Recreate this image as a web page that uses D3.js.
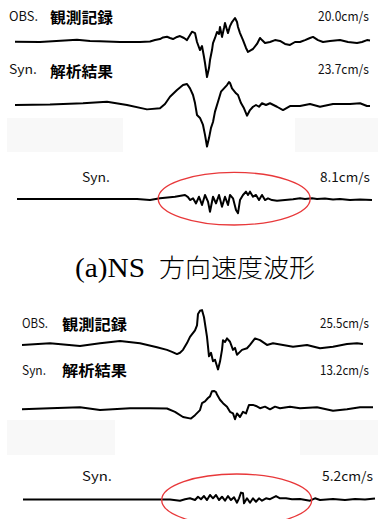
<!DOCTYPE html>
<html>
<head>
<meta charset="utf-8">
<script src="https://cdn.jsdelivr.net/npm/d3@7"></script>
<style>
  html, body { margin: 0; padding: 0; background: #fff; }
  svg { display: block; }
</style>
</head>
<body>
<svg id="chart" width="378" height="519"></svg>
<script>
// ---- Velocity waveforms: [time (s), velocity (cm/s)] ----

// (a) NS component
const nsObs = [[0,0.2],[5,0],[12.4,1.3],[15,0.6],[17,0.4],[21,0],[25,0],[27,0.3],[28,1.1],[29,1.7],[29.6,2.6],[30.4,3.0],[31,2.3],[31.6,1.7],[32.4,2.9],[33,3.4],[33.8,2.3],[34.4,1.1],[35,4.0],[35.4,5.9],[36,5.1],[36.4,0],[37,-4.6],[37.4,-2.3],[37.8,-8.6],[38,-12],[38.4,-20.0],[38.8,-14.9],[39,-10.3],[39.4,-4.6],[39.6,-0.6],[40,2.3],[40.4,5.7],[40.8,4.6],[41,8.6],[41.4,2.9],[41.8,8.0],[42,10.9],[42.4,6.9],[42.6,5.1],[43,9.1],[43.4,11.4],[44,13.7],[44.4,11.4],[44.6,8.6],[45,5.1],[45.6,1.1],[46.2,-3.4],[46.6,-5.7],[47.2,-4.6],[47.6,-4.0],[48.4,-1.1],[49,2.3],[49.4,1.1],[50,-0.6],[51,0],[52,1.1],[53,0.6],[54,-1.1],[55,-1.7],[56,0],[57,0],[58,1.1],[59,2.3],[59.6,2.9],[60.6,1.1],[61.6,0],[63,0.6],[65,1.1],[66.6,0],[68.4,-0.6],[69.4,0],[70.4,1.1],[71,0.9]];

const nsSyn = [[0,0],[7,0.3],[13.6,1.0],[18.4,1.9],[22.4,0],[26.4,-2.5],[29,-1.9],[30,0.6],[31,4.7],[32.4,8.6],[33.6,11.4],[34.4,12.0],[35,9.5],[35.6,5.7],[36,1.1],[36.4,-5.7],[37,-7.4],[37.6,-11.4],[38,-17.1],[38.4,-23.7],[38.8,-18.9],[39.2,-13.1],[39.6,-9.7],[40,-3.8],[40.6,1.9],[41.2,7.6],[41.8,9.5],[42.4,11.4],[42.8,13.1],[43,12.6],[43.4,9.5],[44.2,6.7],[44.6,5.7],[45.2,1.1],[45.8,-1.9],[46.4,-6.1],[47,-2.9],[47.6,-1.0],[48.2,0],[48.8,-1.0],[49.4,1.0],[50.2,0],[51,1.0],[52.4,-1.0],[53.6,-2.9],[55,-0.6],[57,-0.6],[59,0.6],[61,-1.0],[63.6,0.6],[67,0.6],[69,1.0],[70.4,-0.6],[71,-0.6]];

const nsSynSub = [[0.4,0],[24.4,0],[27,-0.6],[29,0.4],[32,1.3],[34,2.3],[34.6,1.1],[35,-0.6],[35.6,0.4],[36.2,-2.5],[36.8,1.3],[37.4,-3.4],[38,2.3],[38.6,-1.5],[39,-7.3],[39.6,1.3],[40.2,-2.5],[40.8,2.3],[41.4,-4.4],[42,1.3],[42.6,-3.4],[43,2.3],[43.6,0.4],[44.2,-6.3],[44.6,-8.1],[45,-0.6],[45.6,2.3],[46.2,4.2],[46.6,2.3],[47,4.2],[47.6,1.3],[48.2,2.3],[48.8,-0.6],[49.4,2.3],[50,-0.6],[50.6,0.4],[51.4,-0.6],[52.4,-1.0],[54,-0.6],[55.6,-0.2],[57,0.4],[58,0],[59.4,0.4],[60.4,0],[62,0.3],[63.6,-0.3],[65,0],[67,-0.6],[69,-0.3],[71.4,-0.6]];

// (b) EW component
const ewObs = [[0,-0.7],[5.6,0.5],[11.6,-1.5],[15.6,0.5],[19.6,2.2],[23.6,0.5],[27,-2.4],[29,-4.4],[30,-5.9],[31,-7.6],[31.6,-6.6],[32.2,-4.4],[33,0.7],[33.6,5.4],[34.6,10.3],[35,14.0],[35.2,22.6],[35.6,25.0],[36,25.5],[36.4,20.1],[37,5.4],[37.4,-9.3],[37.8,-6.6],[38.2,-13.0],[38.6,-11.8],[39,-16.7],[39.2,-19.1],[39.6,-13.2],[40,-4.4],[40.2,2.9],[40.6,1.5],[41,4.2],[41.6,1.7],[42.2,-4.4],[42.6,-2.9],[43,-8.1],[43.6,-5.9],[44,-4.4],[45,-3.2],[45.6,-0.7],[46.6,4.2],[47.6,2.9],[49,-0.7],[50.2,0.5],[52.2,-0.7],[54.2,-2.0],[57,-0.7],[59.6,-3.2],[62.2,-2.0],[65,0],[67,0.5],[68.2,0]];

const ewSyn = [[0,-0.6],[5.6,0.2],[11.6,0.9],[15.6,-1.2],[21.6,0.2],[25.6,0.2],[29,0],[30.6,-2.5],[32.2,-6.4],[33.8,-7.6],[34.6,-5.0],[35.6,-1.2],[36,4.0],[36.6,5.3],[37.2,7.9],[37.6,9.1],[38,13.0],[38.4,13.2],[38.8,12.4],[39,10.5],[39.6,6.6],[40.2,4.0],[41,1.4],[41.6,-2.5],[42.2,-3.7],[42.6,-8.1],[43,-3.7],[43.6,-6.4],[44.2,-2.5],[44.8,-3.7],[45.4,2.7],[46.2,2.7],[46.8,1.9],[47.6,0.2],[48.6,1.4],[49.6,-0.6],[50.6,1.4],[51.6,0.2],[53.6,1.4],[55.6,0.2],[59,0.9],[62.2,-1.7],[65,-0.6],[67.6,0.9],[70.2,0.9]];

const ewSynSub = [[0.2,0],[15.6,0],[29.6,0],[31.6,-0.9],[32.6,0.2],[33.6,0.9],[34.6,-0.4],[35.2,2.1],[35.8,0.2],[36.4,2.6],[37,-0.4],[37.6,3.4],[38.2,0.9],[38.8,3.4],[39.4,-0.4],[40,2.1],[40.6,-0.9],[41.2,2.6],[41.8,-0.4],[42.4,1.7],[43,-2.4],[43.4,0.9],[43.8,5.2],[44.2,4.7],[44.4,-2.9],[45,0.9],[45.6,-2.4],[46.2,0.9],[46.8,-1.7],[47.4,0.9],[48,-0.9],[48.8,0.9],[49.6,0.2],[50.8,2.6],[51.6,0.9],[52.8,0.9],[54,0.2],[55.6,0.4],[57.6,-0.9],[58.6,0.9],[59.6,-0.4],[62.2,0.4],[64.6,-0.4],[66.6,0.4],[68.6,0],[70.6,0.8]];

// Peak velocities printed beside each trace (cm/s)
const nsPeaks = [20.0, 23.7, 8.1];
const ewPeaks = [25.5, 13.2, 5.2];

// Trace captions
const traceTags = ["OBS.", "Syn.", "Syn."];
const traceNames = ["観測記録", "解析結果", ""];
const captionLatin = "(a)NS";
const captionJa = "方向速度波形";

// ---- Layout ----
const svg = d3.select("#chart");
const timeDomain = [0, 71];

// Each label: [left x, baseline y, width, font size]
const panels = [
  {
    series: [nsObs, nsSyn, nsSynSub], peaks: nsPeaks,
    xRange: [15, 370], pxPerUnit: 1.75,
    baselines: [42, 105, 199],
    tagPos: [[9, 21, 29, 13], [9, 74, 28, 13], [82, 181.5, 28, 13]],
    namePos: [[50, 23, 63, 15], [50, 76.5, 63, 15]],
    peakPos: [[318, 21, 51, 13], [318, 74, 51, 13], [320, 181.5, 50, 13]],
    ellipse: [234.2, 198.7, 76, 26.3],
    shades: [[7, 118, 116, 34], [295, 118, 83, 34]]
  },
  {
    series: [ewObs, ewSyn, ewSynSub], peaks: ewPeaks,
    xRange: [22, 377], pxPerUnit: 1.33,
    baselines: [344, 408.5, 499.5],
    tagPos: [[22, 328, 26, 13], [22, 374.5, 24, 13], [82, 480.5, 30, 13]],
    namePos: [[62, 329.5, 65, 15], [62, 376, 65, 15]],
    peakPos: [[320, 328, 49, 13], [320, 374.5, 49, 13], [322, 480.5, 51, 13]],
    ellipse: [236.7, 500, 75, 26],
    shades: [[7, 420, 108, 35], [300, 420, 78, 35]]
  }
];

const fmt = d3.format(".1f");
const labelFont = "'Noto Sans CJK JP', 'Noto Sans', sans-serif";

// Draw a text squeezed/stretched horizontally to a given width
function fitText(txt, pos, opts) {
  const t = svg.append("text")
    .attr("font-family", opts.family || labelFont)
    .attr("font-size", pos[3])
    .attr("font-weight", opts.weight || "normal")
    .attr("fill", opts.fill || "#111")
    .text(txt);
  const natural = t.node().getComputedTextLength() || pos[2];
  const sx = pos[2] / natural;
  t.attr("transform", `translate(${pos[0]},${pos[1]}) scale(${sx},1)`);
  return t;
}

panels.forEach(p => {
  // faint background patches
  svg.append("g").selectAll("rect").data(p.shades).join("rect")
    .attr("x", d => d[0]).attr("y", d => d[1])
    .attr("width", d => d[2]).attr("height", d => d[3])
    .attr("fill", "#f8f8f8");

  const x = d3.scaleLinear().domain(timeDomain).range(p.xRange);

  p.series.forEach((data, i) => {
    const b = p.baselines[i];
    const span = 30;
    const y = d3.scaleLinear().domain([-span, span])
      .range([b + span * p.pxPerUnit, b - span * p.pxPerUnit]);
    const line = d3.line().x(d => x(d[0])).y(d => y(d[1])).curve(d3.curveLinear);
    svg.append("path").datum(data)
      .attr("d", line)
      .attr("fill", "none")
      .attr("stroke", "#000")
      .attr("stroke-width", 2)
      .attr("stroke-linejoin", "round");

    fitText(traceTags[i], p.tagPos[i], {});
    if (traceNames[i]) fitText(traceNames[i], p.namePos[i], { weight: "bold", fill: "#000" });
    fitText(fmt(p.peaks[i]) + "cm/s", p.peakPos[i], {});
  });

  // highlighted time window
  const e = p.ellipse;
  svg.append("ellipse")
    .attr("cx", e[0]).attr("cy", e[1]).attr("rx", e[2]).attr("ry", e[3])
    .attr("fill", "none").attr("stroke", "#e8383a").attr("stroke-width", 1.3);
});

// panel caption
fitText(captionLatin, [75, 277, 70, 27], { family: "'Liberation Serif', 'Times New Roman', serif", fill: "#000" });
fitText(captionJa, [159, 277, 156, 25], { family: "'Noto Sans CJK JP', sans-serif", weight: 300, fill: "#000" });
</script>
</body>
</html>
